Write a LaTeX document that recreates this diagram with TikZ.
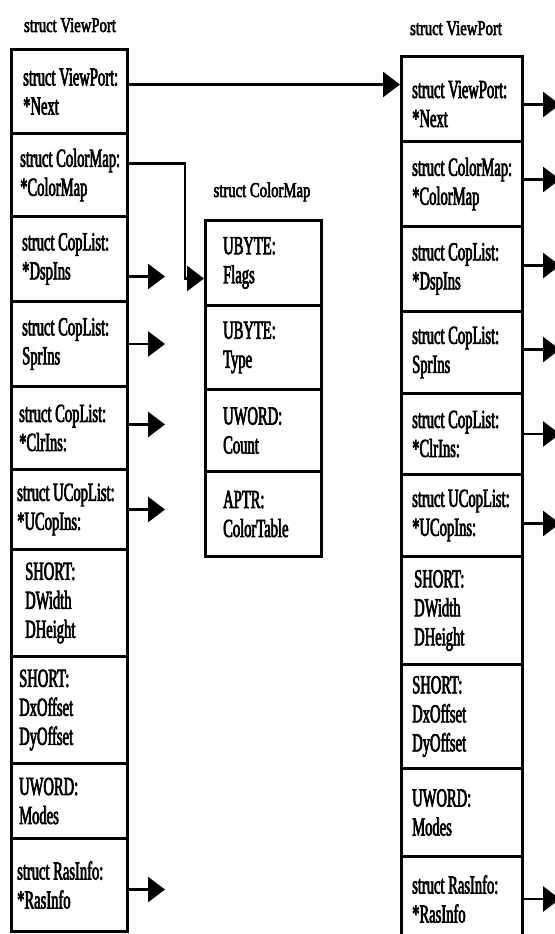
\documentclass[tikz,border=0pt]{standalone}
\usepackage{fontspec}
\setmainfont{Liberation Serif}[FakeStretch=0.56, FakeBold=2.5]
\newfontfamily\titlefont{Liberation Serif}[FakeStretch=0.70, FakeBold=2.5]
\usetikzlibrary{arrows.meta}
\begin{document}
\begin{tikzpicture}[x=1pt,y=-1pt,
  cell/.style={draw, line width=3pt, anchor=north west, inner sep=0pt, minimum height=#1},
  lcell/.style={cell=#1, minimum width=116pt},
  ccell/.style={cell=#1, minimum width=116pt},
  rcell/.style={cell=#1, minimum width=121pt},
  txt/.style={anchor=west, align=left, inner sep=0pt, font=\fontsize{26}{29}\selectfont},
  ttl/.style={anchor=base, inner sep=0pt, font=\titlefont\fontsize{21}{24}\selectfont},
  arr/.style={line width=2.8pt, -{Triangle[length=17pt,width=25pt]}}]
\useasboundingbox (0,0) rectangle (554,934);

% titles
\node[ttl] (tl) at (70,32) {struct ViewPort};
\node[ttl] (tc) at (262,197) {struct ColorMap};
\node[ttl] (tr) at (456,35) {struct ViewPort};

% left column
\node[lcell=84pt]  (L1)  at (10,48)  {};
\node[lcell=83pt]  (L2)  at (10,132) {};
\node[lcell=85pt]  (L3)  at (10,215) {};
\node[lcell=85pt]  (L4)  at (10,300) {};
\node[lcell=83pt]  (L5)  at (10,385) {};
\node[lcell=80pt]  (L6)  at (10,468) {};
\node[lcell=107pt] (L7)  at (10,548) {};
\node[lcell=107pt] (L8)  at (10,655) {};
\node[lcell=75pt]  (L9)  at (10,762) {};
\node[lcell=93pt]  (L10) at (10,837) {};

\node[txt] (lt1)  at ([xshift=13pt]L1.west)  {struct ViewPort:\\*Next};
\node[txt] (lt2)  at ([xshift=10pt]L2.west)  {struct ColorMap:\\*ColorMap};
\node[txt] (lt3)  at ([xshift=12pt]L3.west)  {struct CopList:\\*DspIns};
\node[txt] (lt4)  at ([xshift=12pt]L4.west)  {struct CopList:\\SprIns};
\node[txt] (lt5)  at ([xshift=9pt]L5.west)   {struct CopList:\\*ClrIns:};
\node[txt] (lt6)  at ([xshift=7pt]L6.west)   {struct UCopList:\\*UCopIns:};
\node[txt] (lt7)  at ([xshift=15pt]L7.west)  {SHORT:\\DWidth\\DHeight};
\node[txt] (lt8)  at ([xshift=9pt]L8.west)   {SHORT:\\DxOffset\\DyOffset};
\node[txt] (lt9)  at ([xshift=9pt]L9.west)   {UWORD:\\Modes};
\node[txt] (lt10) at ([xshift=7pt]L10.west)  {struct RasInfo:\\*RasInfo};

% centre column
\node[ccell=85pt] (C1) at (204,219) {};
\node[ccell=84pt] (C2) at (204,304) {};
\node[ccell=82pt] (C3) at (204,388) {};
\node[ccell=85pt] (C4) at (204,470) {};
\node[txt] (ct1) at ([xshift=19pt]C1.west) {UBYTE:\\Flags};
\node[txt] (ct2) at ([xshift=19pt]C2.west) {UBYTE:\\Type};
\node[txt] (ct3) at ([xshift=19pt]C3.west) {UWORD:\\Count};
\node[txt] (ct4) at ([xshift=19pt]C4.west) {APTR:\\ColorTable};

% right column
\node[rcell=85pt]  (R1)  at (400,55)  {};
\node[rcell=85pt]  (R2)  at (400,140) {};
\node[rcell=85pt]  (R3)  at (400,225) {};
\node[rcell=82pt]  (R4)  at (400,310) {};
\node[rcell=81pt]  (R5)  at (400,392) {};
\node[rcell=82pt]  (R6)  at (400,473) {};
\node[rcell=108pt] (R7)  at (400,555) {};
\node[rcell=104pt] (R8)  at (400,663) {};
\node[rcell=88pt]  (R9)  at (400,767) {};
\node[rcell=85pt]  (R10) at (400,855) {};

\node[txt] (rt1)  at ([xshift=12pt,yshift=-5pt]R1.west) {struct ViewPort:\\*Next};
\node[txt] (rt2)  at ([xshift=12pt]R2.west)  {struct ColorMap:\\*ColorMap};
\node[txt] (rt3)  at ([xshift=12pt]R3.west)  {struct CopList:\\*DspIns};
\node[txt] (rt4)  at ([xshift=12pt]R4.west)  {struct CopList:\\SprIns};
\node[txt] (rt5)  at ([xshift=12pt]R5.west)  {struct CopList:\\*ClrIns:};
\node[txt] (rt6)  at ([xshift=12pt]R6.west)  {struct UCopList:\\*UCopIns:};
\node[txt] (rt7)  at ([xshift=14pt]R7.west)  {SHORT:\\DWidth\\DHeight};
\node[txt] (rt8)  at ([xshift=12pt]R8.west)  {SHORT:\\DxOffset\\DyOffset};
\node[txt] (rt9)  at ([xshift=12pt]R9.west)  {UWORD:\\Modes};
\node[txt] (rt10) at ([xshift=12pt]R10.west) {struct RasInfo:\\*RasInfo};

% connectors
\draw[arr] ([yshift=7pt]L1.east) -- ([yshift=7pt]L1.east -| R1.west);
\draw[arr] ([yshift=11.5pt]L2.east) -- ++(56,0) |- ([yshift=-15.5pt]C1.west);
\draw[arr] ([yshift=-17.5pt]L3.east) -- ++(36,0);
\draw[arr] (L4.east) -- ++(36,0);
\draw[arr] ([yshift=3.5pt]L5.east) -- ++(36,0);
\draw[arr] (L6.east) -- ++(36,0);
\draw[arr] ([yshift=-4.5pt]L10.east) -- ++(36,0);

\draw[arr] ([yshift=-5.5pt]R1.east) -- ++(36,0);
\draw[arr] ([yshift=4.5pt]R2.east) -- ++(36,0);
\draw[arr] ([yshift=3.5pt]R3.east) -- ++(36,0);
\draw[arr] ([yshift=3pt]R4.east) -- ++(36,0);
\draw[arr] (R5.east) -- ++(36,0);
\draw[arr] ([yshift=-8pt]R6.east) -- ++(36,0);
\draw[arr] (R10.east) -- ++(36,0);
\end{tikzpicture}
\end{document}
